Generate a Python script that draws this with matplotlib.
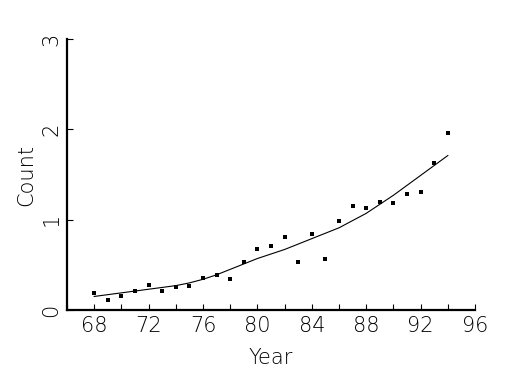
import matplotlib
matplotlib.use('Agg')
import matplotlib.pyplot as plt
from matplotlib.ticker import MultipleLocator

# yearly counts (dots)
years = list(range(68, 95))
counts = [0.19, 0.11, 0.15, 0.21, 0.28, 0.21, 0.25, 0.27, 0.35, 0.39,
          0.34, 0.53, 0.68, 0.71, 0.81, 0.53, 0.84, 0.57, 0.98, 1.15,
          1.13, 1.20, 1.18, 1.28, 1.31, 1.63, 1.96]

# smoothed trend line
trend = [0.15, 0.17, 0.19, 0.21, 0.23, 0.25, 0.27, 0.30, 0.34, 0.39,
         0.45, 0.51, 0.57, 0.62, 0.67, 0.73, 0.79, 0.85, 0.91, 0.99,
         1.07, 1.17, 1.27, 1.38, 1.49, 1.60, 1.71]

fig = plt.figure(figsize=(5.25, 3.75), dpi=100)
ax = fig.add_axes([0.1276, 0.1733, 0.7772, 0.7227])

ax.plot(years, trend, color='black', lw=0.8)
ax.plot(years, counts, 's', color='black', ms=2.6, mew=0)

ax.set_xlim(66, 96)
ax.set_ylim(0, 3)
ax.xaxis.set_major_locator(MultipleLocator(4))
ax.xaxis.set_minor_locator(MultipleLocator(2))
ax.set_xticks(range(68, 97, 4))
ax.yaxis.set_major_locator(MultipleLocator(1))

for s in ['top', 'right']:
    ax.spines[s].set_visible(False)
for s in ['left', 'bottom']:
    ax.spines[s].set_linewidth(1.6)

font = dict(family='DejaVu Sans', weight='light', size=15)
ax.tick_params(which='both', direction='in', length=4, width=0.8, pad=4)
for lab in ax.get_xticklabels():
    lab.set_fontproperties(font)
for lab in ax.get_yticklabels():
    lab.set_fontproperties(font)
    lab.set_rotation(90)
    lab.set_va('center')

ax.set_xlabel('Year', fontdict=font, labelpad=9)
ax.set_ylabel('Count', fontdict=font, labelpad=4)

fig.savefig('out.png', dpi=100)
